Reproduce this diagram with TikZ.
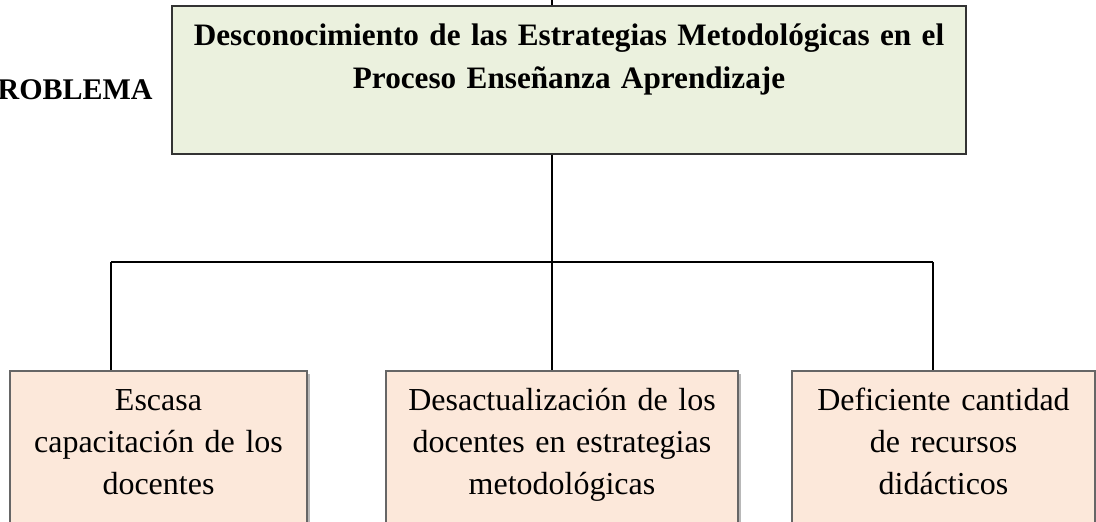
\documentclass[tikz,border=0pt]{standalone}
\usepackage{fontspec}
\setmainfont{Liberation Serif}
\usetikzlibrary{positioning,shadows}
\definecolor{verdeclaro}{HTML}{EBF1DE}
\definecolor{salmon}{HTML}{FCE8DA}
\tikzset{
  problema/.style={draw=black!80, fill=verdeclaro, line width=0.8pt, anchor=north,
    text width=384pt, align=center, inner xsep=6.5pt, inner ysep=9pt,
    text height=11pt, text depth=45pt, font=\bfseries\fontsize{15.6}{21.5}\selectfont},
  causa/.style={draw=black!60, fill=salmon, line width=1pt, anchor=north,
    align=center, inner xsep=0pt, inner ysep=9pt, text height=11pt, text depth=60pt,
    font=\fontsize{16}{21}\selectfont,
    drop shadow={shadow xshift=1.3pt, shadow yshift=-1.3pt, fill=black!35, opacity=0.8}},
  linea/.style={line width=1pt}
}
\begin{document}
\begin{tikzpicture}[x=1pt,y=1pt]
\useasboundingbox (0,0) rectangle (548,261);
% problema central
\node[problema] (prob) at (284.5,258.5)
  {Desconocimiento de las Estrategias Metodológicas en el\\Proceso Enseñanza Aprendizaje};
\node[anchor=base east, inner sep=0pt, font=\bfseries\fontsize{15}{18}\selectfont] (etiqueta) at (76.5,211) {ROBLEMA};
% causas
\node[causa, text width=148.5pt] (c1) at (79.25,76) {Escasa\\capacitación de los\\docentes};
\node[causa, text width=176pt] (c2) at (281,76) {Desactualización de los\\docentes en estrategias\\metodológicas};
\node[causa, text width=151.5pt] (c3) at (471.75,76) {Deficiente cantidad\\de recursos\\didácticos};
% lineas
\coordinate (arriba) at (275.8,261);
\coordinate (cruce) at (275.8,130);
\coordinate (izq) at (55.5,130);
\coordinate (der) at (466.5,130);
\draw[linea] (arriba) -- (arriba |- prob.north);
\draw[linea] (prob.south -| cruce) -- (cruce);
\draw[linea] (izq) -- (der);
\draw[linea] (izq) -- (izq |- c1.north);
\draw[linea] (cruce) -- (cruce |- c2.north);
\draw[linea] (der) -- (der |- c3.north);
\end{tikzpicture}
\end{document}
